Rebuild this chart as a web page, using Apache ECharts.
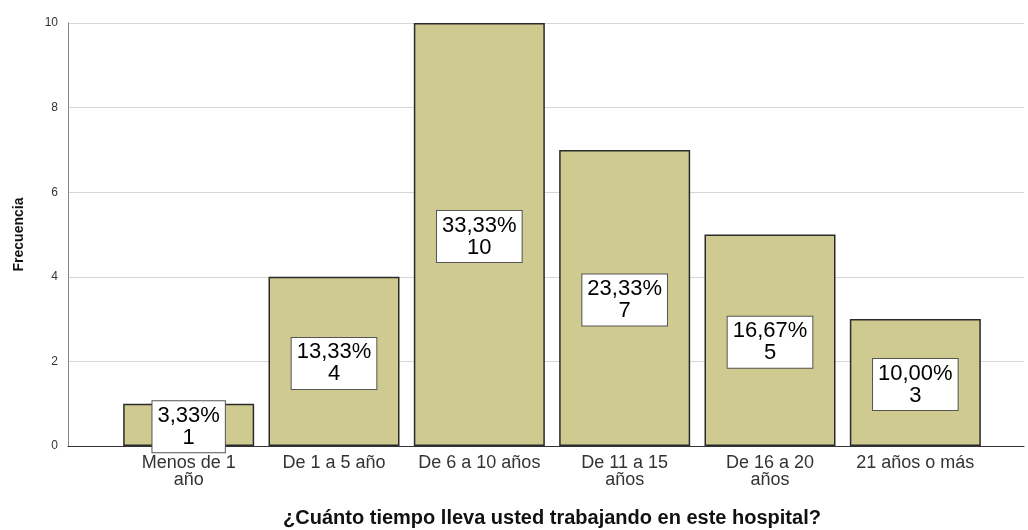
<!DOCTYPE html>
<html>
<head>
<meta charset="utf-8">
<script src="https://cdn.jsdelivr.net/npm/echarts@6/dist/echarts.min.js"></script>
<style>
html,body{margin:0;padding:0;background:#fff;}
#chart{width:1028px;height:530px;}
</style>
</head>
<body>
<div id="chart"></div>
<script>
// Years worked at the hospital: response counts per category
const categories = ['Menos de 1\naño', 'De 1 a 5 año', 'De 6 a 10 años', 'De 11 a 15\naños', 'De 16 a 20\naños', '21 años o más'];
const frequencies = [1, 4, 10, 7, 5, 3];
const yTicks = [0, 2, 4, 6, 8, 10];

const total = frequencies.reduce((a, b) => a + b, 0);
const pctLabel = v => (v / total * 100).toFixed(2).replace('.', ',') + '%\n' + v;

const chart = echarts.init(document.getElementById('chart'));
chart.setOption({
  animation: false,
  grid: [
    { left: 68, right: 4, top: 23, bottom: 84, outerBoundsMode: 'none', containLabel: false },
    { left: 116, right: 40, top: 23, bottom: 84, outerBoundsMode: 'none', containLabel: false }
  ],
  xAxis: [
    {
      gridIndex: 0, type: 'value', min: 0, max: 1,
      axisLine: { show: true, lineStyle: { color: '#333', width: 1 } },
      axisTick: { show: false }, axisLabel: { show: false }, splitLine: { show: false }
    },
    {
      gridIndex: 1, type: 'category', data: categories,
      axisLine: { show: false }, axisTick: { show: false },
      axisLabel: { color: '#333', fontSize: 18, fontFamily: 'Liberation Sans, Arial', lineHeight: 17, margin: 9, interval: 0 },
      name: '¿Cuánto tiempo lleva usted trabajando en este hospital?',
      nameLocation: 'middle', nameGap: 62,
      nameTextStyle: { color: '#111', fontSize: 20, fontWeight: 'bold', fontFamily: 'Liberation Sans, Arial' }
    }
  ],
  yAxis: [
    {
      gridIndex: 0, type: 'value', min: 0, max: 10, interval: 2,
      data: yTicks,
      axisLine: { show: true, lineStyle: { color: '#888', width: 1 } },
      axisTick: { show: false },
      axisLabel: { color: '#333', fontSize: 12, fontFamily: 'Liberation Sans, Arial', margin: 10 },
      splitLine: { show: true, lineStyle: { color: '#d6d6d6', width: 1 } },
      name: 'Frecuencia', nameLocation: 'middle', nameGap: 42, nameRotate: 90,
      nameTextStyle: { color: '#111', fontSize: 14, fontWeight: 'bold', fontFamily: 'Liberation Sans Narrow, Liberation Sans, Arial' }
    },
    {
      gridIndex: 1, type: 'value', min: 0, max: 10, show: false
    }
  ],
  series: [
    {
      type: 'bar', xAxisIndex: 1, yAxisIndex: 1,
      data: frequencies, barWidth: 131,
      itemStyle: { color: '#cfca8f', borderColor: '#2b2b2b', borderWidth: 1.5 },
      label: {
        show: true, position: 'inside', offset: [0, 2],
        formatter: p => pctLabel(p.value),
        color: '#000', fontSize: 22, lineHeight: 22, align: 'center',
        fontFamily: 'Liberation Sans, Arial',
        backgroundColor: '#fff', borderColor: '#555', borderWidth: 1,
        padding: [6, 5, 1, 5]
      }
    }
  ]
});
</script>
</body>
</html>
